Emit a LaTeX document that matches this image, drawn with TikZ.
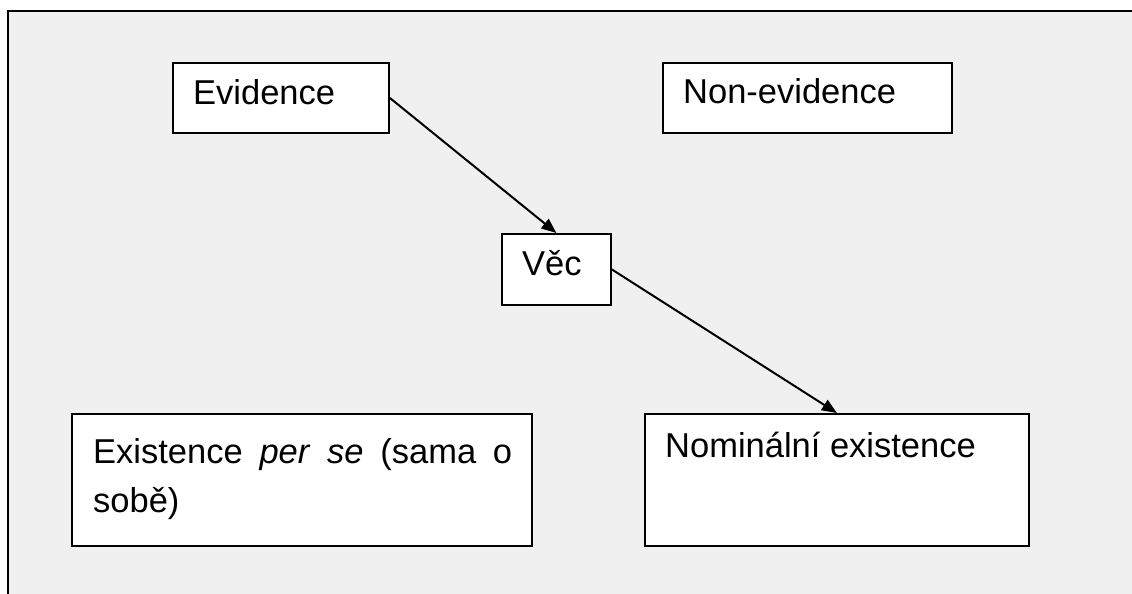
\documentclass[tikz,border=0pt]{standalone}
\usepackage{fontspec}
\setmainfont{Liberation Sans}
\usetikzlibrary{arrows.meta}
\definecolor{panelgray}{HTML}{F0F0F0}
\tikzset{
	box/.style={draw, fill=white, line width=1.8pt, rectangle, inner sep=0pt, anchor=north west},
	txt/.style={anchor=base west, inner sep=0pt, font=\fontsize{34.5}{49}\selectfont},
	link/.style={->, line width=2pt}
}
\begin{document}
\begin{tikzpicture}[x=1pt, y=-1pt, >={Triangle[length=15pt,width=12pt]}]
		\useasboundingbox (0,0) rectangle (1132,594);
		% panel
		\fill[panelgray] (8,11) rectangle (1132,594);
		\draw[line width=2pt] (7.5,594)--(7.5,11)--(1132,11);

		% upper row
		\node[box, minimum width=216pt, minimum height=70pt] (evid) at (172,62) {};
		\node[txt] (evidtxt) at (193,104) {Evidence};
		\node[box, minimum width=289pt, minimum height=70pt] (nonevid) at (662,62) {};
		\node[txt] (nonevidtxt) at (683,103) {Non-evidence};

		% middle
		\node[box, minimum width=109pt, minimum height=71pt] (vec) at (501,233) {};
		\node[txt] (vectxt) at (522,275) {Věc};

		% lower row
		\node[box, minimum width=460pt, minimum height=132pt] (perse) at (71,413) {};
		\node[txt] (persetxt) at (93,463) {\makebox[419pt][s]{Existence \textit{per} \textit{se} (sama o}};
		\node[txt] (persetxtb) at (93,512) {sobě)};
		\node[box, minimum width=384pt, minimum height=132pt] (nom) at (644,413) {};
		\node[txt] (nomtxt) at (665,457) {Nominální existence};

		\draw[link] (evid.east)--(vec.north);
		\draw[link] (vec.east)--(nom.north);
\end{tikzpicture}
\end{document}
